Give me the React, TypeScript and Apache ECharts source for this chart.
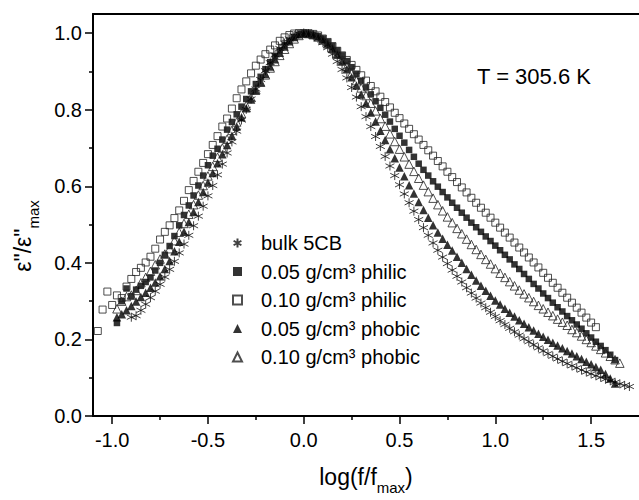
import React, { useEffect, useRef } from "react";
import * as echarts from "echarts";

// log(f/fmax) grid of the frequency sweep
const GRID_X = [
  -1.075, -1.05, -1.025, -1, -0.975, -0.95, -0.925, -0.9, -0.875, -0.85, -0.825, -0.8, -0.775, -0.75, -0.725, -0.7,
  -0.675, -0.65, -0.625, -0.6, -0.575, -0.55, -0.525, -0.5, -0.475, -0.45, -0.425, -0.4, -0.375, -0.35, -0.325, -0.3,
  -0.275, -0.25, -0.225, -0.2, -0.175, -0.15, -0.125, -0.1, -0.075, -0.05, -0.025, 0, 0.025, 0.05, 0.075, 0.1,
  0.125, 0.15, 0.175, 0.2, 0.225, 0.25, 0.275, 0.3, 0.325, 0.35, 0.375, 0.4, 0.425, 0.45, 0.475, 0.5,
  0.525, 0.55, 0.575, 0.6, 0.625, 0.65, 0.675, 0.7, 0.725, 0.75, 0.775, 0.8, 0.825, 0.85, 0.875, 0.9,
  0.925, 0.95, 0.975, 1, 1.025, 1.05, 1.075, 1.1, 1.125, 1.15, 1.175, 1.2, 1.225, 1.25, 1.275, 1.3,
  1.325, 1.35, 1.375, 1.4, 1.425, 1.45, 1.475, 1.5, 1.525, 1.55, 1.575, 1.6, 1.625, 1.65, 1.675, 1.7,
];

const SERIES_NAMES = [
  "bulk 5CB",
  "0.05 g/cm³ philic",
  "0.10 g/cm³ philic",
  "0.05 g/cm³ phobic",
  "0.10 g/cm³ phobic",
];

const X_MAJOR = [-1, -0.5, 0, 0.5, 1, 1.5];
const X_MINOR = [-0.75, -0.25, 0.25, 0.75, 1.25];
const Y_MAJOR = [0, 0.2, 0.4, 0.6, 0.8, 1.0];
const Y_MINOR = [0.1, 0.3, 0.5, 0.7, 0.9];

// bulk 5CB (asterisks)
const BULK_START = -0.9;
const BULK_Y = [
  0.258, 0.262, 0.276, 0.292, 0.309, 0.326, 0.344, 0.363, 0.383, 0.404, 0.426, 0.449, 0.472, 0.497, 0.522, 0.548,
  0.575, 0.602, 0.63, 0.658, 0.687, 0.716, 0.744, 0.773, 0.801, 0.828, 0.854, 0.879, 0.902, 0.923, 0.943, 0.96,
  0.974, 0.985, 0.993, 0.998, 1.0,
  0.998, 0.994, 0.986, 0.975, 0.962, 0.945, 0.926, 0.905, 0.883, 0.858, 0.833, 0.808, 0.782, 0.756, 0.73, 0.704,
  0.678, 0.653, 0.628, 0.604, 0.58, 0.557, 0.535, 0.513, 0.492, 0.472, 0.452, 0.433, 0.415, 0.398, 0.381, 0.365,
  0.35, 0.335, 0.321, 0.308, 0.295, 0.283, 0.271, 0.26, 0.249, 0.239, 0.229, 0.22, 0.211, 0.202, 0.194, 0.186,
  0.178, 0.17, 0.163, 0.156, 0.149, 0.143, 0.137, 0.131, 0.126, 0.12, 0.115, 0.11, 0.105, 0.101, 0.096, 0.092,
  0.088, 0.084, 0.08, 0.077,
];

// 0.05 g/cm3 philic (filled squares)
const PHILIC05_START = -0.975;
const PHILIC05_Y = [
  0.243, 0.3, 0.333, 0.313, 0.33, 0.34, 0.35, 0.362, 0.38, 0.4, 0.421, 0.444, 0.47, 0.498, 0.525, 0.55,
  0.576, 0.602, 0.628, 0.655, 0.68, 0.698, 0.722, 0.748, 0.768, 0.788, 0.808, 0.828, 0.848, 0.867, 0.886, 0.906,
  0.924, 0.94, 0.955, 0.968, 0.98, 0.99, 0.996, 1.0,
  0.999, 0.996, 0.992, 0.986, 0.977, 0.967, 0.955, 0.942, 0.927, 0.911, 0.894, 0.876, 0.858, 0.84, 0.822, 0.805,
  0.787, 0.769, 0.75, 0.732, 0.714, 0.695, 0.677, 0.659, 0.643, 0.628, 0.613, 0.599, 0.585, 0.571, 0.557, 0.544,
  0.531, 0.518, 0.505, 0.493, 0.481, 0.469, 0.457, 0.445, 0.433, 0.421, 0.409, 0.396, 0.384, 0.371, 0.358, 0.345,
  0.333, 0.32, 0.308, 0.296, 0.284, 0.273, 0.261, 0.25, 0.239, 0.228, 0.216, 0.205, 0.194, 0.183, 0.172, 0.16,
  0.146,
];

// 0.10 g/cm3 philic (open squares)
const PHILIC10_START = -1.075;
const PHILIC10_Y = [
  0.222, 0.278, 0.325, 0.29, 0.315, 0.308, 0.338, 0.358, 0.376, 0.387, 0.401, 0.416, 0.437, 0.461, 0.481, 0.498,
  0.517, 0.537, 0.562, 0.59, 0.614, 0.638, 0.661, 0.684, 0.708, 0.731, 0.756, 0.777, 0.803, 0.83, 0.853, 0.874,
  0.895, 0.915, 0.931, 0.945, 0.957, 0.968, 0.98, 0.989, 0.995, 0.999, 1.0, 1.0,
  1.0, 0.998, 0.994, 0.986, 0.977, 0.966, 0.954, 0.942, 0.93, 0.917, 0.904, 0.89, 0.876, 0.862, 0.848, 0.834,
  0.82, 0.806, 0.792, 0.778, 0.764, 0.75, 0.736, 0.722, 0.708, 0.694, 0.68, 0.666, 0.652, 0.638, 0.624, 0.611,
  0.597, 0.584, 0.57, 0.557, 0.544, 0.531, 0.518, 0.505, 0.492, 0.479, 0.466, 0.453, 0.44, 0.427, 0.414, 0.401,
  0.388, 0.374, 0.361, 0.348, 0.335, 0.322, 0.309, 0.296, 0.283, 0.27, 0.257, 0.244, 0.232,
];

// 0.05 g/cm3 phobic (filled triangles)
const PHOBIC05_START = -0.975;
const PHOBIC05_Y = [
  0.258, 0.266, 0.276, 0.287, 0.299, 0.311, 0.322, 0.335, 0.349, 0.365, 0.384, 0.405, 0.43, 0.455, 0.481, 0.507,
  0.533, 0.559, 0.585, 0.61, 0.635, 0.66, 0.684, 0.708, 0.732, 0.756, 0.78, 0.804, 0.827, 0.85, 0.872, 0.893,
  0.913, 0.932, 0.949, 0.965, 0.979, 0.99, 0.997, 1.0,
  0.999, 0.996, 0.991, 0.984, 0.973, 0.96, 0.944, 0.926, 0.906, 0.885, 0.863, 0.84, 0.817, 0.793, 0.769, 0.745,
  0.721, 0.697, 0.673, 0.649, 0.626, 0.603, 0.581, 0.559, 0.538, 0.518, 0.498, 0.479, 0.463, 0.447, 0.432, 0.416,
  0.4, 0.384, 0.369, 0.354, 0.34, 0.327, 0.314, 0.302, 0.291, 0.28, 0.27, 0.26, 0.25, 0.241, 0.232, 0.223,
  0.215, 0.207, 0.199, 0.191, 0.184, 0.177, 0.17, 0.163, 0.156, 0.149, 0.142, 0.135, 0.128, 0.121, 0.11, 0.098,
  0.085,
];

// 0.10 g/cm3 phobic (open triangles)
const PHOBIC10_START = -0.975;
const PHOBIC10_Y = [
  0.28, 0.3, 0.312, 0.316, 0.328, 0.348, 0.362, 0.378, 0.395, 0.41, 0.423, 0.437, 0.458, 0.48, 0.503, 0.527,
  0.552, 0.577, 0.602, 0.627, 0.652, 0.676, 0.7, 0.723, 0.746, 0.768, 0.79, 0.811, 0.832, 0.852, 0.872, 0.891,
  0.909, 0.926, 0.942, 0.958, 0.973, 0.985, 0.994, 1.0,
  0.999, 0.996, 0.99, 0.982, 0.972, 0.96, 0.946, 0.93, 0.913, 0.895, 0.876, 0.857, 0.837, 0.817, 0.797, 0.777,
  0.757, 0.737, 0.717, 0.697, 0.677, 0.658, 0.639, 0.621, 0.603, 0.586, 0.569, 0.552, 0.536, 0.52, 0.505, 0.49,
  0.476, 0.462, 0.448, 0.435, 0.422, 0.409, 0.397, 0.385, 0.373, 0.362, 0.351, 0.34, 0.329, 0.319, 0.309, 0.299,
  0.289, 0.28, 0.271, 0.262, 0.253, 0.245, 0.237, 0.226, 0.218, 0.209, 0.2, 0.192, 0.183, 0.174, 0.165, 0.156,
  0.147, 0.138,
];

function toPoints(start: number, ys: number[]): number[][] {
  const i0 = GRID_X.indexOf(start);
  const pts: number[][] = [];
  ys.forEach((y, i) => {
    const x = GRID_X[i0 + i];
    if (x !== undefined) pts.push([x, y]);
  });
  return pts;
}

const FONT = "'Liberation Sans', Arial, Helvetica, sans-serif";
const ASTERISK = "path://M0,-5L0,5M-4.33,-2.5L4.33,2.5M-4.33,2.5L4.33,-2.5";
const HOLLOW = "rgba(255,255,255,0)";

export default function App() {
  const ref = useRef<HTMLDivElement>(null);

  useEffect(() => {
    if (!ref.current) return;
    const chart = echarts.init(ref.current, undefined, { renderer: "svg" });

    const xBase = {
      type: "value" as const,
      min: -1.1,
      max: 1.75,
      splitLine: { show: false },
    };
    const yBase = {
      type: "value" as const,
      min: 0,
      max: 1.05,
      splitLine: { show: false },
    };
    const tickStyle = { color: "#000", width: 1.5 };

    const option: any = {
      animation: false,
      backgroundColor: "#ffffff",
      grid: { left: 93, right: -3, top: 14, bottom: 81 },
      xAxis: [
        {
          ...xBase,
          position: "bottom",
          axisLine: { show: true, onZero: false, lineStyle: { color: "#000", width: 2 } },
          axisTick: { show: true, length: 8, customValues: X_MAJOR, lineStyle: tickStyle },
          axisLabel: {
            show: true,
            customValues: X_MAJOR,
            formatter: (v: number) => v.toFixed(1),
            fontSize: 20,
            color: "#000",
            fontFamily: FONT,
            margin: 14,
          },
          name: "{a|log(f/f}{b|max}{a|)}",
          nameLocation: "middle",
          nameGap: 49,
          nameTextStyle: {
            rich: {
              a: { fontSize: 23, fontFamily: FONT, color: "#000", padding: [0, 0, 7, 0], verticalAlign: "bottom" },
              b: { fontSize: 15, fontFamily: FONT, color: "#000", verticalAlign: "bottom" },
            },
          },
        },
        {
          ...xBase,
          position: "bottom",
          axisLine: { show: false, onZero: false },
          axisTick: { show: true, length: 4, customValues: X_MINOR, lineStyle: tickStyle },
          axisLabel: { show: false },
        },
        {
          ...xBase,
          position: "top",
          axisLine: { show: true, onZero: false, lineStyle: { color: "#000", width: 2 } },
          axisTick: { show: false },
          axisLabel: { show: false },
        },
      ],
      yAxis: [
        {
          ...yBase,
          position: "left",
          axisLine: { show: true, onZero: false, lineStyle: { color: "#000", width: 2 } },
          axisTick: { show: true, length: 8, customValues: Y_MAJOR, lineStyle: tickStyle },
          axisLabel: {
            show: true,
            customValues: Y_MAJOR,
            formatter: (v: number) => v.toFixed(1),
            fontSize: 20,
            color: "#000",
            fontFamily: FONT,
            margin: 11,
          },
        },
        {
          ...yBase,
          position: "left",
          axisLine: { show: false, onZero: false },
          axisTick: { show: true, length: 4, customValues: Y_MINOR, lineStyle: tickStyle },
          axisLabel: { show: false },
        },
      ],
      legend: {
        orient: "vertical",
        left: 227,
        top: 228,
        itemWidth: 9,
        itemHeight: 9,
        itemGap: 8.5,
        selectedMode: false,
        data: SERIES_NAMES,
        textStyle: { fontSize: 20, color: "#000", fontFamily: FONT, padding: [0, 0, 0, 14] },
      },
      graphic: [
        {
          type: "text",
          left: 477,
          top: 65,
          style: { text: "T = 305.6 K", fontSize: 22, fontFamily: FONT, fill: "#000" },
        },
        {
          type: "text",
          x: 26,
          y: 236,
          rotation: Math.PI / 2,
          style: {
            text: '{a|ε"/ε"}{b|max}',
            align: "center",
            verticalAlign: "middle",
            rich: {
              a: { fontSize: 23, fontFamily: FONT, fill: "#000", padding: [0, 0, 7, 0], verticalAlign: "bottom" },
              b: { fontSize: 15, fontFamily: FONT, fill: "#000", verticalAlign: "bottom" },
            },
          },
        },
      ],
      series: [
        {
          type: "scatter",
          name: SERIES_NAMES[0],
          data: toPoints(BULK_START, BULK_Y),
          symbol: ASTERISK,
          symbolSize: 9,
          itemStyle: { color: HOLLOW, borderColor: "#111", borderWidth: 1 },
        },
        {
          type: "scatter",
          name: SERIES_NAMES[1],
          data: toPoints(PHILIC05_START, PHILIC05_Y),
          symbol: "rect",
          symbolSize: 6.5,
          itemStyle: { color: "#000" },
        },
        {
          type: "scatter",
          name: SERIES_NAMES[2],
          data: toPoints(PHILIC10_START, PHILIC10_Y),
          symbol: "rect",
          symbolSize: 7,
          itemStyle: { color: HOLLOW, borderColor: "#222", borderWidth: 1 },
        },
        {
          type: "scatter",
          name: SERIES_NAMES[3],
          data: toPoints(PHOBIC05_START, PHOBIC05_Y),
          symbol: "triangle",
          symbolSize: 8.5,
          itemStyle: { color: "#000" },
        },
        {
          type: "scatter",
          name: SERIES_NAMES[4],
          data: toPoints(PHOBIC10_START, PHOBIC10_Y),
          symbol: "triangle",
          symbolSize: 8.5,
          itemStyle: { color: HOLLOW, borderColor: "#222", borderWidth: 1 },
        },
      ],
    };

    chart.setOption(option);
    return () => chart.dispose();
  }, []);

  return (
    <div
      ref={ref}
      style={{ position: "fixed", left: 0, top: 0, width: 639, height: 500, background: "#fff" }}
    />
  );
}
